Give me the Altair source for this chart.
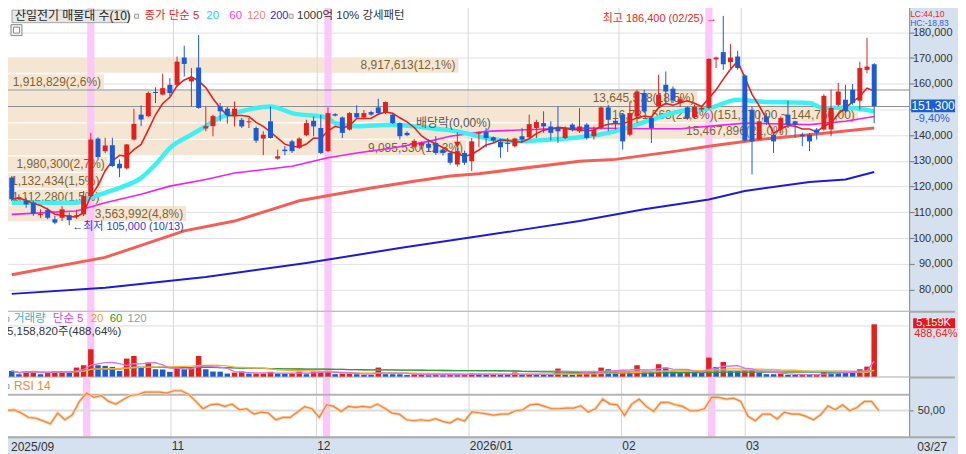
import altair as alt
import pandas as pd

FONT = "Liberation Sans, Noto Sans CJK KR, sans-serif"
RED = "#e3211c"
BLUE = "#1d5bd3"

# ---------------- data (prices in thousand won, volume in thousand shares) ----------------
opens = [123.5,115.5,114.4,113.8,109.4,110.9,107.3,107.9,108.9,108.5,
         109.2,116.3,138.7,133.8,136.1,128.9,127.1,138.3,148.0,147.4,
         156.8,155.8,159.6,159.6,170.2,160.9,166.3,142.6,143.5,151.2,
         150.3,147.3,146.0,145.0,142.8,138.7,145.4,130.9,134.4,137.6,
         135.1,140.0,145.6,142.8,133.8,148.2,146.9,142.2,148.6,146.9,
         149.0,150.8,148.6,148.0,144.7,140.9,135.5,136.0,136.6,137.0,
         134.4,133.1,128.6,133.1,129.9,140.6,141.2,139.2,137.4,137.0,
         135.7,139.6,139.2,142.8,144.7,143.4,142.8,138.9,144.1,141.5,
         144.1,139.6,142.8,150.8,145.6,148.0,140.2,147.3,156.4,146.7,
         151.2,159.6,158.1,152.5,150.8,147.0,150.0,150.6,169.5,172.3,
         168.4,170.6,163.2,149.9,138.3,147.3,140.2,142.2,148.0,145.4,
         140.2,140.2,142.2,142.2,142.2,151.8,153.8,157.7,153.4,165.4,
         167.6]
highs = [124.1,117.0,115.7,114.4,111.2,111.8,108.6,112.5,109.9,111.0,
         118.3,140.9,139.2,139.0,139.0,130.6,136.6,150.3,151.6,157.0,
         158.6,163.9,162.2,170.6,174.8,166.1,179.0,151.2,148.0,152.5,
         151.0,153.1,146.7,146.7,143.4,141.5,151.2,134.4,135.7,138.3,
         139.2,146.0,147.3,147.9,150.8,148.5,147.3,149.0,151.6,149.8,
         149.5,154.2,153.1,148.2,145.0,141.5,138.5,137.5,138.5,139.6,
         135.0,133.5,135.2,134.0,138.9,141.4,142.8,139.5,138.6,138.9,
         139.0,142.8,148.0,146.0,149.3,145.4,151.2,143.4,144.7,150.5,
         144.7,143.4,151.2,151.8,146.5,148.6,153.1,157.7,157.7,147.3,
         163.5,164.8,159.0,155.0,151.2,152.0,151.5,169.9,170.6,186.4,
         175.4,172.8,163.7,151.2,149.3,148.6,140.9,147.3,153.4,145.6,
         141.0,140.9,142.8,156.0,157.7,160.3,159.6,159.9,168.6,177.9,
         168.0]
lows = [114.4,114.8,111.8,108.6,107.9,107.3,105.4,106.7,105.0,107.5,
        108.6,116.0,130.6,133.1,127.6,123.7,126.7,138.0,143.5,147.0,
        152.5,155.5,155.1,159.0,162.8,151.2,150.3,141.5,139.6,145.4,
        144.5,143.4,142.8,142.8,137.0,132.2,138.7,130.5,132.2,133.1,
        134.7,139.6,139.6,132.7,133.5,147.3,138.9,141.8,146.5,146.5,
        147.6,148.0,148.2,144.4,138.3,139.6,135.0,134.5,133.5,132.4,
        132.0,128.5,127.8,128.5,126.0,135.3,135.3,137.2,131.2,133.5,
        135.3,137.0,138.9,138.9,140.9,138.0,137.0,138.5,141.5,140.9,
        138.3,138.3,142.2,141.5,142.2,134.4,139.6,144.7,148.6,137.0,
        150.5,151.8,152.5,151.0,146.0,146.5,149.0,149.9,166.1,165.4,
        166.1,165.4,137.6,124.7,138.3,144.0,133.1,140.9,142.8,138.9,
        135.7,133.8,138.3,141.8,139.6,151.2,148.6,151.8,149.9,164.1,
        144.7]
closes = [115.1,115.9,113.1,109.5,109.7,107.9,106.0,111.2,107.0,108.9,
          116.3,138.3,131.5,136.0,128.0,127.1,136.4,144.4,146.1,156.4,
          156.4,158.3,156.4,168.6,167.7,162.2,150.6,143.5,147.4,149.3,
          147.8,150.3,143.4,145.4,137.9,140.2,138.9,131.8,133.8,133.8,
          138.7,144.7,143.4,133.1,148.6,147.6,140.9,148.6,146.9,148.6,
          148.0,148.6,152.9,144.7,139.6,140.0,137.8,137.0,135.1,133.1,
          133.1,129.3,133.8,129.3,137.6,141.2,138.9,137.9,135.3,136.6,
          138.7,138.3,144.3,145.1,143.4,140.9,141.5,142.8,142.2,143.4,
          138.9,142.2,150.8,146.0,144.8,137.6,148.6,157.0,149.3,142.8,
          155.7,157.0,153.5,154.0,146.6,151.0,150.6,169.7,170.2,167.6,
          170.2,166.1,137.9,137.6,145.4,145.0,137.6,146.7,144.1,144.1,
          139.6,137.6,140.9,155.3,150.6,157.0,149.3,152.5,166.1,166.7,
          151.3]
volumes = [645,322,580,645,322,483,612,620,483,966,
           1191,2737,1191,1127,1030,645,1836,2093,1030,1449,
           805,780,548,1127,805,966,2093,805,580,570,
           386,483,580,386,390,395,548,386,380,400,
           580,322,580,585,645,322,386,390,322,258,
           255,966,322,320,318,258,322,325,226,322,
           226,322,258,300,420,330,290,350,290,280,
           483,258,322,310,300,295,870,322,258,386,
           483,490,966,805,645,700,580,1191,645,580,
           1288,966,645,483,580,483,480,1932,1030,1513,
           645,640,700,720,483,322,320,386,258,255,
           260,250,322,580,483,480,475,470,805,1056,
           5158.82]

# moving averages (index, thousand won)
ma20_idx = [0,4,9,11,13,15,18,20,22,25,27,29,31,36,39,44,45,48,53,58,62,66,70,75,79,84,89,93,97,101,104,111,113,116,120]
ma20_val = [113.7,113.7,113.7,115.7,117.6,119.5,123.4,128.6,135.0,140.2,143.5,146.9,148.6,151.2,148.6,146.7,144.7,143.5,144.1,142.8,141.5,138.9,137.6,138.3,139.2,141.5,146.0,149.3,150.5,153.8,153.1,152.5,150.5,150.8,149.3]
ma60_idx = [0,4,9,13,18,22,27,31,39,44,48,53,58,61,66,75,79,89,93,102,111,116,120]
ma60_val = [109.2,109.8,110.5,113.7,117.0,120.2,122.8,125.3,127.9,131.2,133.1,135.0,137.6,139.6,141.5,142.5,142.8,142.5,142.5,144.7,144.1,145.4,147.3]
ma120_idx = [0,13,24,31,40,50,56,61,65,79,84,93,97,104,111,120]
ma120_val = [85.7,92.5,102.8,106.6,114.5,119.5,122.1,124.1,125.0,129.9,130.6,134.0,135.7,138.3,140.2,142.8]
ma200_idx = [0,13,27,41,54,64,70,79,88,97,102,111,116,120]
ma200_val = [78.3,80.7,84.9,90.3,96.1,100.3,102.8,106.6,111.2,115.0,118.3,121.8,122.8,125.7]

# RSI(14), one reading per candle
rsi_val = [50.0,50.8,46.6,40.9,40.0,36.6,32.8,46.6,38.1,44.3,
           61.5,72.1,66.6,69.1,61.5,58.1,63.6,69.1,70.0,73.4,
           73.4,73.4,72.1,75.1,75.1,70.8,61.5,52.1,57.2,58.1,
           55.1,58.1,50.8,52.1,45.3,47.9,46.6,38.1,41.1,41.1,
           47.9,54.7,52.1,41.1,57.2,55.1,48.7,55.1,53.8,55.1,
           53.8,58.1,52.9,46.6,45.3,38.1,36.8,38.1,36.8,39.4,
           36.0,33.9,39.4,36.5,48.0,47.0,45.5,44.0,45.3,45.3,
           49.6,50.8,57.2,58.1,55.1,52.1,52.1,53.0,53.0,55.9,
           47.9,52.1,64.4,58.1,57.2,43.6,58.1,64.4,55.1,48.7,
           60.2,60.2,57.2,55.1,49.6,49.6,52.1,67.0,66.6,64.4,
           65.7,61.5,42.4,36.8,45.3,45.3,39.0,47.9,45.3,45.3,
           42.4,38.1,44.5,55.9,50.8,57.2,49.6,53.8,61.5,61.5,
           49.6]

# volume-profile zones (매물대)
zone_low = [163990,157580,151170,144760,138350,131940,125530,119120,112710,106300]
zone_vol = [8917613,1918829,13645578,16781563,15467896,9085530,1980300,1132434,1112280,3563992]
zone_pct = [12.1,2.6,18.5,22.8,21.0,12.3,2.7,1.5,1.5,4.8]
ZONE_STEP = 6410

hl_idx = [11, 44, 97]
month_first_idx = [0, 23, 43, 64, 85, 102]
month_labels = ["2025/09", "11", "12", "2026/01", "02", "03"]
high_idx, low_idx, exdiv_idx = 99, 8, 62

# ---------------- layout ----------------
W, HP, HV, HR = 910, 311, 66, 60
RIGHT = 956
X_MIN, X_MAX = -0.66, 124.17
PXI = W / (X_MAX - X_MIN)
ONE = pd.DataFrame({"k": [0]})

xs = alt.Scale(domain=[X_MIN, X_MAX], nice=False, zero=False)
ps = alt.Scale(domain=[71350, 191900], nice=False, zero=False)
vs = alt.Scale(domain=[0, 6376000], nice=False, zero=False)
rs = alt.Scale(domain=[15.6, 92], nice=False, zero=False)
dir_scale = alt.Scale(domain=["up", "down"], range=[RED, BLUE])

price_axis = alt.Axis(orient="right", values=list(range(80000, 181000, 10000)),
                      labelExpr="datum.value == 150000 ? '' : format(datum.value, ',d')",
                      labelAlign="right", labelPadding=38, tickSize=5, tickColor="#777",
                      domainColor="#8a8a8a", labelFont=FONT, labelFontSize=11, labelColor="#333",
                      grid=True, gridColor="#e2e2e2", title=None, labelOverlap=False)
vol_axis = alt.Axis(orient="right", values=[], domainColor="#8a8a8a", grid=False, title=None)
rsi_axis = alt.Axis(orient="right", values=[50], labelExpr="'50,00'", tickSize=4, tickColor="#777",
                    labelPadding=4, domainColor="#8a8a8a", labelFont=FONT, labelFontSize=11,
                    labelColor="#333", grid=False, title=None)

gpos = [m - 0.5 for m in month_first_idx]
# the first label sits at the very left edge (hidden by the page margin) -> drawn as a text mark below
expr = "".join(f"datum.value < {(gpos[k] + gpos[k+1]) / 2} ? '{month_labels[k]}' : " for k in range(1, len(gpos) - 1))
expr += f"'{month_labels[-1]}'"
x_axis = alt.Axis(orient="bottom", values=gpos[1:], labelExpr=expr, labelAlign="left", labelFlush=False,
                  labelPadding=3, labelOffset=1, tickSize=0, domain=False, grid=True, gridColor="#d8d8d8",
                  labelFont=FONT, labelFontSize=12, labelColor="#333", title=None, labelOverlap=False)


def PX(f):
    return alt.X(f, type="quantitative", scale=xs, axis=None)


def RX(f):
    return alt.X(f, type="quantitative", scale=xs, axis=x_axis)


def PY(f):
    return alt.Y(f, type="quantitative", scale=ps, axis=price_axis)


def VY(f):
    return alt.Y(f, type="quantitative", scale=vs, axis=vol_axis)


def RY(f):
    return alt.Y(f, type="quantitative", scale=rs, axis=rsi_axis)


def T(s, x, y, color="#333", size=12, align="left"):
    return alt.Chart(ONE).mark_text(text=s, align=align, baseline="middle", font=FONT,
                                    fontSize=size, color=color).encode(x=alt.value(x), y=alt.value(y))


def R(x1, x2, y1, y2, fill, stroke=None):
    kw = {"fill": fill}
    if stroke:
        kw.update(stroke=stroke, strokeWidth=1)
    return alt.Chart(ONE).mark_rect(**kw).encode(x=alt.value(x1), x2=alt.value(x2),
                                                 y=alt.value(y1), y2=alt.value(y2))


def SEP(h):
    return alt.Chart(ONE).mark_rule(color="#a9a9a9", strokeWidth=2).encode(
        x=alt.value(1), x2=alt.value(RIGHT), y=alt.value(h))


def tw(s, size=12):
    w = 0.0
    for ch in s:
        if ch.isdigit():
            w += 0.556
        elif ch in ",.":
            w += 0.278
        elif ch in "()":
            w += 0.333
        elif ch == "%":
            w += 0.889
        elif ch == " ":
            w += 0.278
        elif ch == "~":
            w += 0.584
        else:
            w += 0.6
    return w * size


df = pd.DataFrame({
    "i": list(range(len(closes))),
    "open": [v * 1000 for v in opens],
    "high": [v * 1000 for v in highs],
    "low": [v * 1000 for v in lows],
    "close": [v * 1000 for v in closes],
    "vol": [v * 1000 for v in volumes],
})
df["vdir"] = ["down"] + ["up" if volumes[k] > volumes[k - 1] else "down" for k in range(1, len(volumes))]

# zones
zrows = []
imax = zone_pct.index(max(zone_pct))
for k, lo in enumerate(zone_low):
    lab = f"{zone_vol[k]:,}({zone_pct[k]}%)".replace(".", ",")
    if k == imax:
        lab += f"({lo + ZONE_STEP:,}.00 ~ {lo:,}.00)".replace(".", ",")
    end_px = max(zone_pct[k] * 37.85, tw(lab) + 8)
    zrows.append({"lo": lo + 250, "hi": lo + ZONE_STEP - 250, "ym": lo + ZONE_STEP / 2,
                  "x0": X_MIN, "x1": X_MIN + end_px / PXI, "tx": X_MIN + (end_px - 3) / PXI, "label": lab})
zdf = pd.DataFrame(zrows)
cur_zone = [lo for lo in zone_low if lo <= closes[-1] * 1000 < lo + ZONE_STEP][0]

hdf = pd.DataFrame({"a": [h - 0.5 for h in hl_idx], "b": [h + 0.5 for h in hl_idx]})
gdf = pd.DataFrame({"g": gpos[1:]})


def ma_df(idx, val):
    return pd.DataFrame({"i": idx, "v": [v * 1000 for v in val]})


# ---------------- price panel ----------------
base = alt.Chart(df)
cand = base.transform_calculate(
    dir="datum.close >= datum.open ? 'up' : 'down'",
    b2="abs(datum.close - datum.open) < 400 ? datum.open - 400 : datum.close")

p_layers = [
    alt.Chart(zdf).mark_rect(fill="#f5e6d4").encode(x=PX("x0"), x2="x1", y=PY("lo"), y2="hi"),
    alt.Chart(gdf).mark_rule(color="#d8d8d8").encode(x=PX("g"), y=alt.value(0), y2=alt.value(HP)),
    alt.Chart(hdf).mark_rect(fill="#fcc8fb").encode(x=PX("a"), x2="b", y=alt.value(0), y2=alt.value(HP)),
    alt.Chart(pd.DataFrame({"v": [cur_zone, cur_zone + ZONE_STEP]})).mark_rule(color="#8c8c8c").encode(
        y=PY("v"), x=alt.value(0), x2=alt.value(W)),
    alt.Chart(zdf).mark_text(align="right", baseline="middle", font=FONT, fontSize=12, color="#7a6434").encode(
        x=PX("tx"), y=PY("ym"), text="label:N"),
    alt.Chart(ma_df(ma200_idx, ma200_val)).mark_line(color="#1c1cd4", strokeWidth=2).encode(x=PX("i"), y=PY("v")),
    alt.Chart(ma_df(ma120_idx, ma120_val)).mark_line(color="#f25f57", strokeWidth=3).encode(x=PX("i"), y=PY("v")),
    alt.Chart(ma_df(ma60_idx, ma60_val)).mark_line(color="#ee22ee", strokeWidth=1.6).encode(x=PX("i"), y=PY("v")),
    alt.Chart(ma_df(ma20_idx, ma20_val)).mark_line(color="#3ef0f2", strokeWidth=4.5, interpolate="monotone").encode(x=PX("i"), y=PY("v")),
    base.transform_window(ma5="mean(close)", frame=[-4, 0], sort=[{"field": "i"}]).mark_line(
        color="#e8201a", strokeWidth=1.6).encode(x=PX("i"), y=PY("ma5")),
    cand.mark_rule(strokeWidth=1).encode(x=PX("i"), y=PY("low"), y2="high",
                                         color=alt.Color("dir:N", scale=dir_scale, legend=None)),
    cand.mark_bar(size=5).encode(x=PX("i"), y=PY("open"), y2="b2",
                                 color=alt.Color("dir:N", scale=dir_scale, legend=None)),
]

# annotations anchored to the data
hi_df = pd.DataFrame({"i": [high_idx], "p": [highs[high_idx] * 1000]})
lo_df = pd.DataFrame({"i": [low_idx], "p": [lows[low_idx] * 1000]})
ex_df = pd.DataFrame({"i": [exdiv_idx], "p": [highs[exdiv_idx] * 1000 + 1100],
                      "s1": [highs[exdiv_idx] * 1000 + 1700], "s2": [highs[exdiv_idx] * 1000 + 5900]})
p_layers += [
    alt.Chart(hi_df).mark_text(text=f"최고 {highs[high_idx]*1000:,.0f} (02/25) →", align="right", baseline="middle",
                               dx=-6, dy=3, font=FONT, fontSize=11, color="#e8261b").encode(x=PX("i"), y=PY("p")),
    alt.Chart(lo_df).mark_text(text=f"←최저 {lows[low_idx]*1000:,.0f} (10/13)", align="left", baseline="middle",
                               dx=3, dy=2, font=FONT, fontSize=11, color="#2342d6").encode(x=PX("i"), y=PY("p")),
    alt.Chart(ex_df).mark_rule(color=RED, strokeWidth=1).encode(x=PX("i"), y=PY("s1"), y2="s2"),
    alt.Chart(ex_df).mark_point(shape="triangle-down", filled=True, size=45, color=RED, opacity=1).encode(
        x=PX("i"), y=PY("p")),
    alt.Chart(ex_df).mark_text(text="배당락(0,00%)", align="center", baseline="middle", dx=-4, dy=-22,
                               font=FONT, fontSize=12, color="#555").encode(x=PX("i"), y=PY("p")),
]

# header legend (the page margin hides the top 8 px, so it sits just below it)
HY = 14.5
p_layers += [
    R(10, 127, 8.5, 21, "#e8e8e8", "#a4a4a4"),
    T("산일전기 매물대 수(10)", 13, HY, "#222", 12),
    R(133, 137, 12.5, 16.5, "#f2f2f2", "#9a9a9a"),
    T("종가 단순 5", 143, HY, "#e8261b", 11.5),
    T("20", 205, HY, "#25d0e6", 11.5),
    T("60", 228, HY, "#ee3cee", 11.5),
    T("120", 246, HY, "#f08078", 11),
    T("200", 269, HY, "#2b2bd6", 11),
    R(288, 292, 12.5, 16.5, "#f2f2f2", "#9a9a9a"),
    T("1000억 10% 강세패턴", 296, HY, "#333", 11.5),
    R(9, 20, 23, 34, "#f0f0f0", "#8a8a8a"),
    R(11.5, 17.5, 25.5, 31.5, "#ffffff", "#8a8a8a"),
    # axis side labels
    T("LC:44,10", 911, 12.4, "#e8261b", 8.5),
    T("HC:-18,83", 911, 20.9, "#2c64d6", 8.5),
    R(912, RIGHT, 98, 111, "#1b5ed6"),
    T(f"{closes[-1]*1000:,.0f}", 934, 104.5, "#ffffff", 12, "center"),
    T("-9,40%", 916, 117.5, "#2c64d6", 11),
    SEP(HP),
]
price = alt.layer(*p_layers).properties(width=W, height=HP)

# ---------------- volume panel ----------------
v_layers = [
    alt.Chart(gdf).mark_rule(color="#d8d8d8").encode(x=PX("g"), y=alt.value(0), y2=alt.value(HV)),
    alt.Chart(hdf).mark_rect(fill="#fcc8fb").encode(x=PX("a"), x2="b", y=alt.value(0), y2=alt.value(HV)),
    alt.Chart(pd.DataFrame({"v": [5000000]})).mark_rule(color="#dddddd").encode(
        y=VY("v"), x=alt.value(0), x2=alt.value(W)),
    base.mark_bar(size=5.5).encode(x=PX("i"), y=VY("vol"),
                                   color=alt.Color("vdir:N", scale=dir_scale, legend=None)),
]
for n, col in [(120, "#a8a8a8"), (60, "#2e9e3a"), (20, "#f0b030"), (5, "#e070e0")]:
    v_layers.append(base.transform_window(m="mean(vol)", frame=[-(n - 1), 0], sort=[{"field": "i"}])
                    .mark_line(color=col, strokeWidth=1.3).encode(x=PX("i"), y=VY("m")))
v_layers += [
    R(3, 7, 5.5, 9.5, "#f2f2f2", "#9a9a9a"),
    T("거래량", 12, 7.5, "#3fb1b8", 11.5),
    T("단순 5", 51, 7.5, "#dd44dd", 11.5),
    T("20", 89, 7.5, "#f0a020", 11.5),
    T("60", 108, 7.5, "#2a9a2a", 11.5),
    T("120", 126, 7.5, "#9a9a9a", 11.5),
    T(f"{volumes[-1]*1000:,.0f}주(488,64%)", 5, 20.5, "#333", 11.5),
    R(914, RIGHT, 6.5, 16.5, "#e8151b"),
    T("5,159K", 917, 11.5, "#ffffff", 11),
    T("488,64%", 915, 22.5, "#e8261b", 11),
    SEP(HV),
]
volume = alt.layer(*v_layers).properties(width=W, height=HV)

# ---------------- RSI panel ----------------
rdf = pd.DataFrame({"i": list(range(len(rsi_val))), "v": rsi_val})
r_layers = [
    alt.Chart(hdf).mark_rect(fill="#fcc8fb").encode(x=RX("a"), x2="b", y=alt.value(0), y2=alt.value(HR)),
    alt.Chart(pd.DataFrame({"v": [50]})).mark_rule(color="#dcdcdc", strokeWidth=2).encode(
        y=RY("v"), x=alt.value(0), x2=alt.value(W)),
    alt.Chart(pd.DataFrame({"v": [70]})).mark_rule(color="#b4b4b4", strokeWidth=2).encode(
        y=RY("v"), x=alt.value(0), x2=alt.value(W)),
    alt.Chart(rdf).mark_line(color="#fbd0a8", strokeWidth=3).encode(x=RX("i"), y=RY("v")),
    alt.Chart(rdf).mark_line(color="#f0863a", strokeWidth=1.2).encode(x=RX("i"), y=RY("v")),
    R(3, 7, 7, 11, "#f2f2f2", "#9a9a9a"),
    T("RSI 14", 12, 9, "#f0883a", 12),
    T(month_labels[0], 9, HR + 9.5, "#333", 12),
    T("03/27", 918, HR + 9.5, "#333", 12),
    SEP(HR),
]
rsi = alt.layer(*r_layers).properties(width=W, height=HR)

chart = alt.vconcat(price, volume, rsi, spacing=0, bounds="flush").properties(
    padding={"left": -8, "top": -8, "right": 0, "bottom": 0}
).configure(background="#d5e1ef").configure_view(stroke=None, fill="white")

chart.save("out.html", embed_options={"renderer": "svg", "actions": False})
